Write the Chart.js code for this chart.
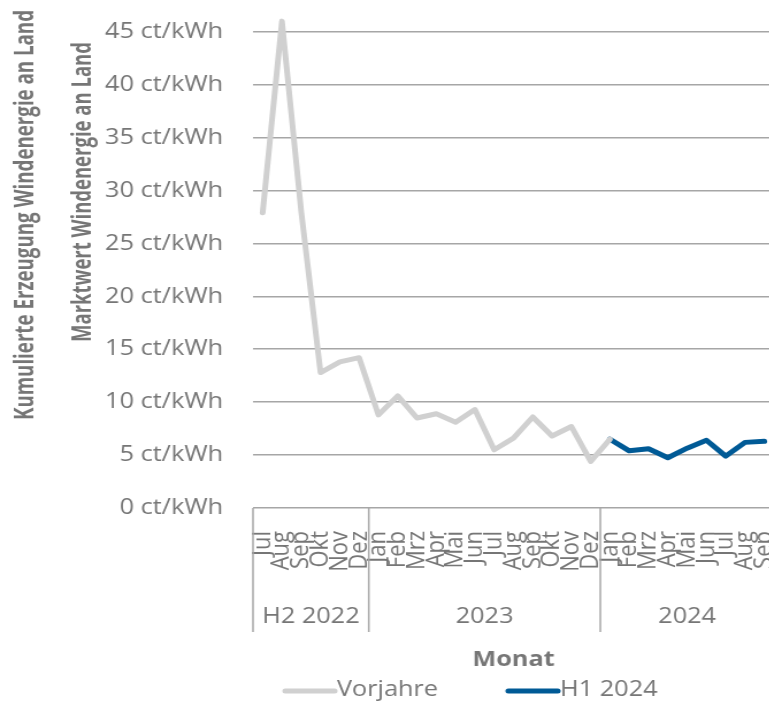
<!DOCTYPE html>
<html>
<head>
<meta charset="utf-8">
<script src="https://cdn.jsdelivr.net/npm/chart.js@4/dist/chart.umd.min.js"></script>
<style>
    html, body { margin: 0; padding: 0; background: #fff; overflow: hidden; width: 769px; height: 705px; }
    /* the reference is stretched horizontally, so the whole canvas is too */
    #wrap { width: 680px; height: 705px; transform: scaleX(1.15); transform-origin: 0 0; }
</style>
</head>
<body>
<div id="wrap"><canvas id="chart" width="680" height="705"></canvas></div>
<script>
// Months, Jul 2022 .. Sep 2024
const months = ['Jul', 'Aug', 'Sep', 'Okt', 'Nov', 'Dez',
    'Jan', 'Feb', 'Mrz', 'Apr', 'Mai', 'Jun', 'Jul', 'Aug', 'Sep', 'Okt', 'Nov', 'Dez',
    'Jan', 'Feb', 'Mrz', 'Apr', 'Mai', 'Jun', 'Jul', 'Aug', 'Sep'];

// Year groups below the month labels
const groupLabels = ['H2 2022', '2023', '2024'];
const groupSizes = [6, 12, 9];

// Marktwert in ct/kWh
const vorjahre = [27.9, 46.0, 28.0, 12.8, 13.8, 14.2,
    8.8, 10.6, 8.5, 8.9, 8.1, 9.3, 5.5, 6.6, 8.6, 6.8, 7.7, 4.4,
    6.5, null, null, null, null, null, null, null, null];
const h1_2024 = [null, null, null, null, null, null,
    null, null, null, null, null, null, null, null, null, null, null, null,
    6.5, 5.4, 5.6, 4.75, 5.65, 6.4, 4.9, 6.2, 6.3];

const yTicks = [0, 5, 10, 15, 20, 25, 30, 35, 40, 45];

const GREY_TEXT = '#767676';
const GRID = '#a6a6a6';
const FONT = '"Open Sans", sans-serif';

// Group labels, separators, the two y titles and the legend
const extras = {
    id: 'extras',
    afterDraw(chart) {
        const ctx = chart.ctx;
        const x = chart.scales.x;
        const bottom = chart.chartArea.bottom;

        ctx.save();
        ctx.strokeStyle = GRID;
        ctx.lineWidth = 1.5;
        ctx.fillStyle = GREY_TEXT;
        ctx.font = '22px ' + FONT;
        ctx.textAlign = 'center';
        ctx.textBaseline = 'middle';
        let start = 0;
        groupLabels.forEach((label, i) => {
            const x0 = x.getPixelForValue(start - 0.5);
            const x1 = x.getPixelForValue(start + groupSizes[i] - 0.5);
            ctx.beginPath();
            ctx.moveTo(x0, bottom);
            ctx.lineTo(x0, 632);
            ctx.stroke();
            ctx.fillText(label, (x0 + x1) / 2, 617);
            start += groupSizes[i];
        });

        // y titles
        ctx.font = 'bold 24px ' + FONT;
        const titles = [
            ['Kumulierte Erzeugung Windenergie an Land', 22, 215, 410],
            ['Marktwert Windenergie an Land', 72, 192, 300]
        ];
        titles.forEach(([text, tx, ty, len]) => {
            const w = ctx.measureText(text).width;
            ctx.save();
            ctx.translate(tx, ty);
            ctx.rotate(-Math.PI / 2);
            ctx.scale(len / w, 1);
            ctx.fillText(text, 0, 0);
            ctx.restore();
        });

        // legend
        ctx.font = '22px ' + FONT;
        ctx.textAlign = 'left';
        const legendX = [245, 439];
        chart.data.datasets.forEach((ds, i) => {
            const lx = legendX[i];
            ctx.strokeStyle = ds.borderColor;
            ctx.lineWidth = 5;
            ctx.lineCap = 'round';
            ctx.beginPath();
            ctx.moveTo(lx + 3, 691);
            ctx.lineTo(lx + 46, 691);
            ctx.stroke();
            ctx.fillStyle = GREY_TEXT;
            ctx.fillText(ds.label, lx + 48, 690);
        });
        ctx.restore();
    }
};

new Chart(document.getElementById('chart'), {
    type: 'line',
    data: {
        labels: months,
        datasets: [{
            label: 'Vorjahre',
            data: vorjahre,
            borderColor: '#d0d0d0',
            backgroundColor: '#d0d0d0',
            borderWidth: 5,
            borderCapStyle: 'round',
            borderJoinStyle: 'round',
            pointRadius: 0,
            tension: 0,
            clip: false
        }, {
            label: 'H1 2024',
            data: h1_2024,
            borderColor: '#005a96',
            backgroundColor: '#005a96',
            borderWidth: 5,
            borderCapStyle: 'round',
            borderJoinStyle: 'round',
            pointRadius: 0,
            tension: 0,
            clip: false
        }]
    },
    options: {
        responsive: false,
        animation: false,
        layout: { padding: { top: 31.7, right: 7, left: 0, bottom: 0 } },
        plugins: {
            legend: { display: false },
            tooltip: { enabled: false }
        },
        scales: {
            x: {
                offset: true,
                grid: { display: false, drawTicks: false },
                border: { display: false },
                ticks: {
                    autoSkip: false,
                    minRotation: 90,
                    maxRotation: 90,
                    padding: 23,
                    color: GREY_TEXT,
                    font: { family: FONT, size: 22 }
                },
                title: {
                    display: true,
                    text: 'Monat',
                    color: GREY_TEXT,
                    font: { family: FONT, size: 22, weight: 'bold' },
                    padding: { top: 0, bottom: 32 }
                },
                afterFit(scale) {
                    scale.height = 197;
                    scale.paddingLeft = 0;
                    scale.paddingRight = 0;
                }
            },
            y: {
                min: 0,
                max: 45,
                afterBuildTicks(scale) { scale.ticks = yTicks.map(v => ({ value: v })); },
                grid: { color: GRID, lineWidth: 1.5, drawTicks: false },
                border: { display: false },
                ticks: {
                    padding: 26,
                    color: GREY_TEXT,
                    font: { family: FONT, size: 22 },
                    callback: v => v + ' ct/kWh'
                },
                afterFit(scale) {
                    scale.width = 220;
                    scale.paddingTop = 0;
                    scale.paddingBottom = 0;
                }
            }
        }
    },
    plugins: [extras]
});
</script>
</body>
</html>
